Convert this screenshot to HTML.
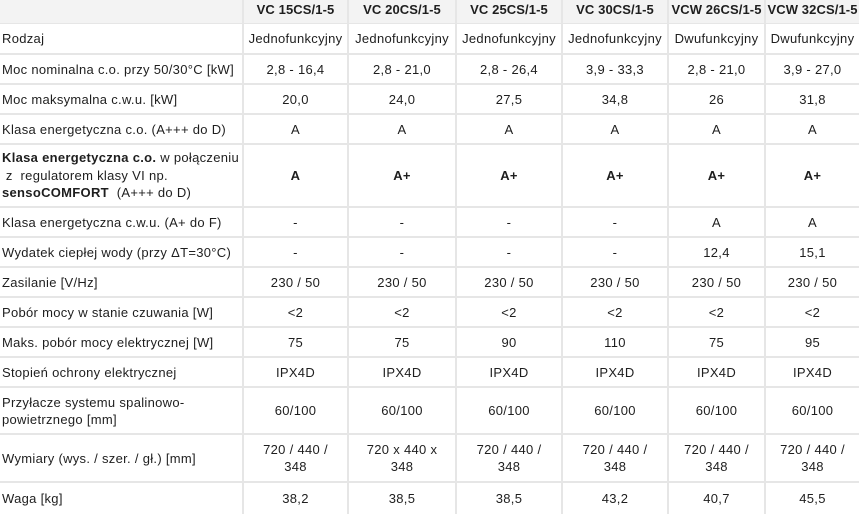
<!DOCTYPE html>
<html><head><meta charset="utf-8"><style>
html,body{margin:0;padding:0;background:#fff;width:859px;height:514px;overflow:hidden}
table{border-collapse:separate;border-spacing:0;table-layout:fixed;width:859px;font-family:"Liberation Sans",sans-serif;font-size:13px;letter-spacing:0.3px;color:#1e1e1e}
td{padding:0;box-sizing:border-box;border-right:2px solid #e6e6e6;border-bottom:2px solid #e6e6e6;text-align:center;vertical-align:middle;line-height:17px;overflow:hidden;white-space:nowrap}
td:first-child{text-align:left;padding-left:2px}
td:last-child{border-right:none}
tr.h td{background:#f3f3f3;font-weight:bold;border-bottom:1px solid #e6e6e6;vertical-align:top;line-height:20px;letter-spacing:0.1px}
</style></head><body>
<table>
<colgroup><col style="width:244px"><col style="width:105px"><col style="width:108px"><col style="width:106px"><col style="width:106px"><col style="width:97px"><col style="width:93px"></colgroup>
<tr class="h" style="height:24px"><td></td><td>VC 15CS/1-5</td><td>VC 20CS/1-5</td><td>VC 25CS/1-5</td><td>VC 30CS/1-5</td><td>VCW 26CS/1-5</td><td>VCW 32CS/1-5</td></tr>
<tr style="height:31px"><td>Rodzaj</td><td>Jednofunkcyjny</td><td>Jednofunkcyjny</td><td>Jednofunkcyjny</td><td>Jednofunkcyjny</td><td>Dwufunkcyjny</td><td>Dwufunkcyjny</td></tr>
<tr style="height:30px"><td>Moc nominalna c.o. przy 50/30°C [kW]</td><td>2,8 - 16,4</td><td>2,8 - 21,0</td><td>2,8 - 26,4</td><td>3,9 - 33,3</td><td>2,8 - 21,0</td><td>3,9 - 27,0</td></tr>
<tr style="height:30px"><td>Moc maksymalna c.w.u. [kW]</td><td>20,0</td><td>24,0</td><td>27,5</td><td>34,8</td><td>26</td><td>31,8</td></tr>
<tr style="height:30px"><td>Klasa energetyczna c.o. (A+++ do D)</td><td>A</td><td>A</td><td>A</td><td>A</td><td>A</td><td>A</td></tr>
<tr style="height:63px"><td style="line-height:17.5px"><b>Klasa energetyczna c.o.</b> w połączeniu<br>&nbsp;z&nbsp; regulatorem klasy VI np.<br><b>sensoCOMFORT</b> &nbsp;(A+++ do D)</td><td><b>A</b></td><td><b>A+</b></td><td><b>A+</b></td><td><b>A+</b></td><td><b>A+</b></td><td><b>A+</b></td></tr>
<tr style="height:30px"><td>Klasa energetyczna c.w.u. (A+ do F)</td><td>-</td><td>-</td><td>-</td><td>-</td><td>A</td><td>A</td></tr>
<tr style="height:30px"><td>Wydatek ciepłej wody (przy ΔT=30°C)</td><td>-</td><td>-</td><td>-</td><td>-</td><td>12,4</td><td>15,1</td></tr>
<tr style="height:30px"><td>Zasilanie [V/Hz]</td><td>230 / 50</td><td>230 / 50</td><td>230 / 50</td><td>230 / 50</td><td>230 / 50</td><td>230 / 50</td></tr>
<tr style="height:30px"><td>Pobór mocy w stanie czuwania [W]</td><td>&lt;2</td><td>&lt;2</td><td>&lt;2</td><td>&lt;2</td><td>&lt;2</td><td>&lt;2</td></tr>
<tr style="height:30px"><td>Maks. pobór mocy elektrycznej [W]</td><td>75</td><td>75</td><td>90</td><td>110</td><td>75</td><td>95</td></tr>
<tr style="height:30px"><td>Stopień ochrony elektrycznej</td><td>IPX4D</td><td>IPX4D</td><td>IPX4D</td><td>IPX4D</td><td>IPX4D</td><td>IPX4D</td></tr>
<tr style="height:47px"><td>Przyłacze systemu spalinowo-<br>powietrznego [mm]</td><td>60/100</td><td>60/100</td><td>60/100</td><td>60/100</td><td>60/100</td><td>60/100</td></tr>
<tr style="height:48px"><td>Wymiary (wys. / szer. / gł.) [mm]</td><td>720 / 440 /<br>348</td><td>720 x 440 x<br>348</td><td>720 / 440 /<br>348</td><td>720 / 440 /<br>348</td><td>720 / 440 /<br>348</td><td>720 / 440 /<br>348</td></tr>
<tr style="height:31px"><td style="border-bottom:none">Waga [kg]</td><td style="border-bottom:none">38,2</td><td style="border-bottom:none">38,5</td><td style="border-bottom:none">38,5</td><td style="border-bottom:none">43,2</td><td style="border-bottom:none">40,7</td><td style="border-bottom:none">45,5</td></tr>
</table>
</body></html>
